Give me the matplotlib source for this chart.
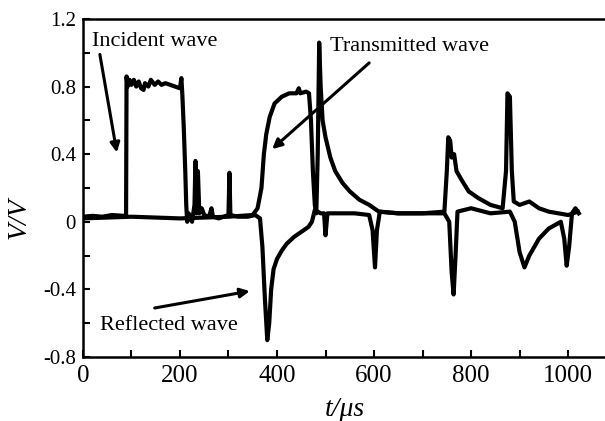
import numpy as np
import matplotlib.pyplot as plt
from matplotlib.ticker import MultipleLocator

# incident bar channel (incident + reflected)
t_inc = [0, 20, 40, 60, 85, 89, 90, 92, 96, 100, 105, 110, 115, 120, 125, 128,
         135, 140, 148, 155, 162, 170, 180, 190, 200, 203, 205, 208, 211, 213,
         215, 218, 225, 230, 232, 234, 237, 240, 245, 250, 260, 265, 268, 280,
         300, 302, 304, 320, 340, 355, 365, 370, 375, 380, 384, 388, 393, 400,
         410, 420, 435, 450, 465, 472, 478, 490, 497, 500, 504, 520, 560, 590,
         597, 602, 606, 612, 650, 700, 745, 755, 760, 764, 768, 772, 800, 840,
         880, 890, 900, 910, 920, 940, 960, 985, 992, 997, 1002, 1008, 1015,
         1022]
v_inc = [0.03, 0.035, 0.03, 0.04, 0.035, 0.04, 0.86, 0.80, 0.84, 0.81, 0.84,
         0.80, 0.83, 0.79, 0.78, 0.82, 0.80, 0.84, 0.81, 0.83, 0.81, 0.82,
         0.81, 0.80, 0.79, 0.85, 0.75, 0.55, 0.30, 0.10, 0.0, 0.05, 0.0, 0.10,
         0.36, 0.05, 0.30, 0.05, 0.08, 0.04, 0.03, 0.08, 0.03, 0.02, 0.04,
         0.29, 0.04, 0.03, 0.03, 0.04, 0.02, -0.15, -0.45, -0.70, -0.60,
         -0.40, -0.28, -0.22, -0.17, -0.13, -0.09, -0.06, -0.03, 0.0, 0.07,
         0.05, 0.05, -0.08, 0.05, 0.05, 0.05, 0.04, -0.05, -0.27, -0.05, 0.06,
         0.05, 0.05, 0.05, 0.0, -0.30, -0.43, -0.20, 0.06, 0.08, 0.05, 0.06,
         0.0, -0.18, -0.27, -0.20, -0.10, -0.04, 0.0, -0.10, -0.26, -0.15,
         0.05, 0.08, 0.05]

# transmitted bar channel
t_tr = [0, 100, 200, 300, 350, 360, 368, 373, 378, 385, 395, 410, 425, 440,
        445, 448, 460, 466, 470, 474, 478, 481, 484, 487, 490, 494, 500, 510,
        520, 535, 550, 570, 590, 610, 650, 700, 745, 750, 753, 757, 760, 765,
        770, 780, 795, 815, 840, 865, 872, 875, 880, 884, 888, 900, 920, 940,
        960, 980, 1000, 1010, 1020]
v_tr = [0.02, 0.03, 0.02, 0.03, 0.04, 0.08, 0.20, 0.40, 0.52, 0.62, 0.70,
        0.74, 0.76, 0.76, 0.79, 0.76, 0.77, 0.76, 0.60, 0.30, 0.10, 0.05,
        0.40, 1.06, 0.80, 0.60, 0.50, 0.38, 0.30, 0.23, 0.18, 0.13, 0.10,
        0.06, 0.05, 0.05, 0.06, 0.30, 0.50, 0.48, 0.38, 0.40, 0.30, 0.25,
        0.18, 0.14, 0.10, 0.08, 0.30, 0.76, 0.74, 0.30, 0.12, 0.10, 0.12,
        0.08, 0.06, 0.05, 0.04, 0.05, 0.06]

plt.rcParams['font.family'] = ['Liberation Serif', 'DejaVu Serif']

fig = plt.figure(figsize=(6.05, 4.21), dpi=100)
ax = fig.add_axes([0.137, 0.152, 0.863, 0.803])

ax.plot(t_inc, v_inc, color='black', lw=3)
ax.plot(t_tr, v_tr, color='black', lw=3)

ax.set_xlim(0, 1076)
ax.set_ylim(-0.8, 1.2)
ax.xaxis.set_major_locator(MultipleLocator(200))
ax.xaxis.set_minor_locator(MultipleLocator(100))
ax.yaxis.set_minor_locator(MultipleLocator(0.2))
ax.set_yticks([-0.8, -0.4, 0, 0.4, 0.8, 1.2])
ax.set_yticklabels(['-0.8', '-0.4', '0', '0.4', '0.8', '1.2'])

ax.tick_params(which='both', direction='in', length=5, width=1.5)
ax.tick_params(axis='x', labelsize=18, pad=6)
ax.tick_params(axis='y', labelsize=15, pad=5)
for s in ['left', 'bottom', 'top']:
    ax.spines[s].set_linewidth(1.8)
ax.spines['right'].set_visible(False)

ax.set_xlabel('t/μs', fontsize=20, style='italic')
ax.xaxis.set_label_coords(0.502, -0.118)
ax.set_ylabel('V/V', fontsize=20, style='italic')
ax.yaxis.set_label_coords(-0.098, 0.41)

arrow = dict(arrowstyle='-|>', color='black', lw=2.2, mutation_scale=14,
             shrinkA=0, shrinkB=0)
ax.text(19, 1.065, 'Incident wave', fontsize=16, va='center', ha='left')
ax.annotate('', xy=(70, 0.41), xytext=(35, 0.99), arrowprops=arrow)
ax.text(509, 1.035, 'Transmitted wave', fontsize=16, va='center', ha='left')
ax.annotate('', xy=(390, 0.43), xytext=(590, 0.94), arrowprops=arrow)
ax.text(35, -0.615, 'Reflected wave', fontsize=16, va='center', ha='left')
ax.annotate('', xy=(344, -0.41), xytext=(148, -0.51), arrowprops=arrow)

fig.savefig('out.png', dpi=100)
